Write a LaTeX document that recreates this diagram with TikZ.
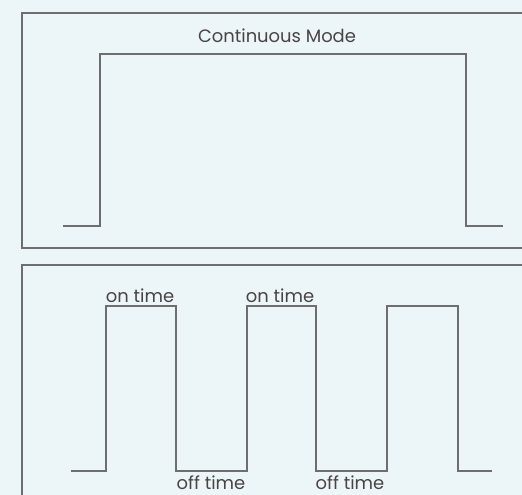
\documentclass[tikz,border=0pt]{standalone}
\usepackage{fontspec}
\setmainfont{Poppins}
\definecolor{bgblue}{HTML}{ECF5F8}
\definecolor{wavegray}{HTML}{6E6E6E}
\definecolor{textgray}{HTML}{4A4444}
\tikzset{x=1bp, y=1bp,
  frame/.style={draw=wavegray, line width=1.4bp},
  wave/.style={draw=wavegray, line width=1.8bp},
  label/.style={text=textgray, font=\fontsize{18}{21}\selectfont, inner sep=0pt}}

\begin{document}
\begin{tikzpicture}
        \clip (0,0) rectangle (522,495);
        \fill[bgblue] (0,0) rectangle (522,495);

        % continuous mode
        \draw[frame] (22,247) rectangle (540,482);
        \node (cont) [label] at (277,459) {Continuous Mode};
        \draw[wave] (63,269) -- (100,269) -- (100,441) -- (466,441) -- (466,269) -- (503,269);

        % pulsed mode
        \draw[frame] (22,-20) rectangle (540,230);
        \node (on1)  [label] at (140,199) {on time};
        \node (on2)  [label] at (280,199) {on time};
        \node (off1) [label, anchor=base] at (211,5) {off time};
        \node (off2) [label, anchor=base] at (350,5) {off time};
        \draw[wave] (71,24) -- (106,24) -- (106,189) -- (176,189) -- (176,24)
                    -- (247,24) -- (247,189) -- (316,189) -- (316,24)
                    -- (387,24) -- (387,189) -- (458,189) -- (458,24) -- (492,24);
      \end{tikzpicture}
\end{document}
